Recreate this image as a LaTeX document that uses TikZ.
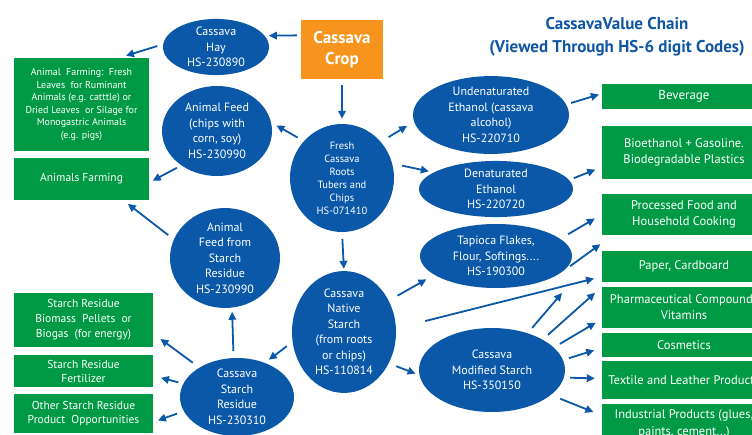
\documentclass[tikz,border=0pt]{standalone}
\usepackage{fontspec}
\setmainfont{PT Sans}
\usetikzlibrary{arrows.meta,shapes.geometric,calc}
\definecolor{eblue}{RGB}{10,88,167}
\definecolor{bgreen}{RGB}{0,154,68}
\definecolor{corange}{RGB}{247,148,29}
\definecolor{tblue}{RGB}{16,86,163}
\newcommand\fsEll{\fontsize{12}{15.5}\selectfont}
\newcommand\fsSmall{\fontsize{10.5}{13}\selectfont}
\newcommand\fsBox{\fontsize{11.5}{15}\selectfont}
\newcommand\fsLeft{\fontsize{10}{12.6}\selectfont}
\newcommand\fsRight{\fontsize{12.5}{16}\selectfont}
\begin{document}
\begin{tikzpicture}[x=1pt,y=-1pt,
  ell/.style={ellipse, fill=eblue, text=white, inner sep=0pt, align=center, font=\fsEll},
  gbox/.style={rectangle, fill=bgreen, text=white, inner sep=0pt, align=center, font=\fsBox},
  rbox/.style={gbox, minimum width=164pt, font=\fsRight},
  arr/.style={draw=eblue, line width=1.8pt, -{Triangle[length=8pt,width=7.5pt]}}]
\useasboundingbox (0,0) rectangle (752,434);
\clip (0,0) rectangle (752,434);
\fill[white] (0,0) rectangle (752,434);

% title
\node[text=tblue, align=center, font=\fontsize{17}{23}\selectfont\bfseries] (title) at (617,37) {CassavaValue Chain\\(Viewed Through HS-6 digit Codes)};

% crop
\node[rectangle, fill=corange, text=white, inner sep=0pt, minimum width=82pt, minimum height=59pt, align=center, font=\fontsize{17}{21}\selectfont\bfseries] (crop) at (342,49.5) {Cassava\\Crop};

% ellipses
\node[ell, minimum width=106pt, minimum height=54pt] (hay) at (216,47) {Cassava\\Hay\\HS-230890};
\node[ell, minimum width=110pt, minimum height=90pt] (feed) at (217,131) {Animal Feed\\(chips with\\corn, soy)\\HS-230990};
\node[ell, minimum width=104pt, minimum height=108pt, font=\fsSmall] (fresh) at (342,178) {Fresh\\Cassava\\Roots\\Tubers and\\Chips\\HS-071410};
\node[ell, minimum width=110pt, minimum height=98pt] (feedres) at (225,258) {Animal\\Feed from\\Starch\\Residue\\HS-230990};
\node[ell, minimum width=104pt, minimum height=108pt] (native) at (344,332) {Cassava\\Native\\Starch\\(from roots\\or chips)\\HS-110814};
\node[ell, minimum width=114pt, minimum height=76pt] (residue) at (237,397) {Cassava\\Starch\\Residue\\HS-230310};
\node[ell, minimum width=156pt, minimum height=72pt] (undena) at (491,115) {Undenaturated\\Ethanol (cassava\\alcohol)\\HS-220710};
\node[ell, minimum width=154pt, minimum height=56pt] (dena) at (496,189) {Denaturated\\Ethanol\\HS-220720};
\node[ell, minimum width=152pt, minimum height=64pt] (tapioca) at (496,256) {Tapioca Flakes,\\Flour, Softings....\\HS-190300};
\node[ell, minimum width=146pt, minimum height=84pt] (modified) at (492,370) {Cassava\\Modified Starch\\HS-350150};

% left green boxes
\node[gbox, minimum width=135pt, minimum height=93pt, font=\fsLeft] (farm1) at (81.5,104.5) {Animal\ \ Farming:\ \ Fresh\\Leaves\ \ for Ruminant\\Animals (e.g. catttle) or\\Dried Leaves\ \ or Silage for\\Monogastric Animals\\(e.g. pigs)};
\node[gbox, minimum width=135pt, minimum height=42pt] (farm2) at (81.5,179) {Animals Farming};
\node[gbox, minimum width=139pt, minimum height=54pt] (bio) at (83.5,320) {Starch Residue\\Biomass\ \ Pellets\ \ or\\Biogas\ \ (for energy)};
\node[gbox, minimum width=139pt, minimum height=32pt, font=\fontsize{11.5}{14}\selectfont] (fert) at (83.5,371) {Starch Residue\\Fertilizer};
\node[gbox, minimum width=139pt, minimum height=39pt, font=\fontsize{11.5}{14.5}\selectfont] (other) at (83.5,413.5) {Other Starch Residue\\Product\ \ Opportunities};

% right green boxes
\node[rbox, minimum height=25pt, font=\fontsize{13}{16}\selectfont] (beverage) at (684,96.5) {Beverage};
\node[rbox, minimum height=53pt] (bioeth) at (684,152.5) {Bioethanol + Gasoline.\\Biodegradable Plastics};
\node[rbox, minimum height=41pt] (processed) at (684,214.5) {Processed Food and\\Household Cooking};
\node[rbox, minimum height=31pt] (paper) at (684,266.5) {Paper, Cardboard};
\node[rbox, minimum height=41pt] (pharma) at (684,307.5) {Pharmaceutical Compounds\\Vitamins};
\node[rbox, minimum height=24pt] (cosmetics) at (684,345) {Cosmetics};
\node[rbox, minimum height=38pt] (textile) at (684,380) {Textile and Leather Products};
\node[rbox, minimum height=40pt, font=\fontsize{12.5}{16.5}\selectfont] (industrial) at (684,424) {Industrial Products (glues,\\paints, cement...)};

\coordinate (gapA) at (602,243);
\coordinate (freeB) at (562,293);

% arrows
\draw[arr, shorten <=4pt, shorten >=4pt] (crop.161) -- (hay.13);
\draw[arr, shorten <=6pt, shorten >=7pt] (hay.177) -- (farm1.51);
\draw[arr, shorten <=6pt, shorten >=5pt] (crop.south) -- (fresh.north);
\draw[arr, shorten <=7pt, shorten >=6pt] (fresh.136) -- (feed.9);
\draw[arr, shorten <=5pt, shorten >=4pt] (feed.224) -- (farm2.-3);
\draw[arr, shorten <=9pt, shorten >=8pt] (fresh.43) -- (undena.185);
\draw[arr, shorten <=10pt, shorten >=5pt] (fresh.16) -- (dena.165);
\draw[arr, shorten <=7pt, shorten >=2pt] (fresh.south) -- (native.north);
\draw[arr, shorten <=10pt, shorten >=9pt] (native.35) -- (tapioca.197);
\draw[arr, shorten <=7pt, shorten >=6pt] (feedres.160) -- (farm2.-27);
\draw[arr, shorten <=7pt, shorten >=4pt] (residue.95) -- (feedres.-82);
\draw[arr, shorten <=7pt, shorten >=5pt] (native.191) -- (residue.51);
\draw[arr, shorten <=8pt, shorten >=9pt] (residue.142) -- (bio.-11);
\draw[arr, shorten <=5pt, shorten >=8pt] (residue.166) -- (fert.-4);
\draw[arr, shorten <=7pt, shorten >=5pt] (residue.195) -- (other.-7);
\draw[arr, shorten <=8pt, shorten >=4pt] (native.-35) -- (modified.184);
\draw[arr, shorten <=30pt, shorten >=8pt] (native.4) -- (paper.187);
\draw[arr, shorten <=5pt, shorten >=3pt] (undena.8) -- (beverage.178);
\draw[arr, shorten <=5pt, shorten >=7pt] (dena.7) -- (bioeth.190);
\draw[arr, shorten <=9pt, shorten >=8pt] (tapioca.15) -- (processed.180);
\draw[arr, shorten <=12pt, shorten >=2pt] (tapioca.-15) -- (gapA);
\draw[arr, shorten <=7pt] (modified.46) -- (freeB);
\draw[arr, shorten <=7pt, shorten >=9pt] (modified.31) -- (pharma.north west);
\draw[arr, shorten <=7pt, shorten >=7pt] (modified.20) -- (pharma.188);
\draw[arr, shorten <=6pt, shorten >=8pt] (modified.8) -- (cosmetics.182);
\draw[arr, shorten <=6pt, shorten >=7pt] (modified.-6) -- (textile.179);
\draw[arr, shorten <=10pt, shorten >=9pt] (modified.-23) -- (industrial.174);
\end{tikzpicture}
\end{document}
